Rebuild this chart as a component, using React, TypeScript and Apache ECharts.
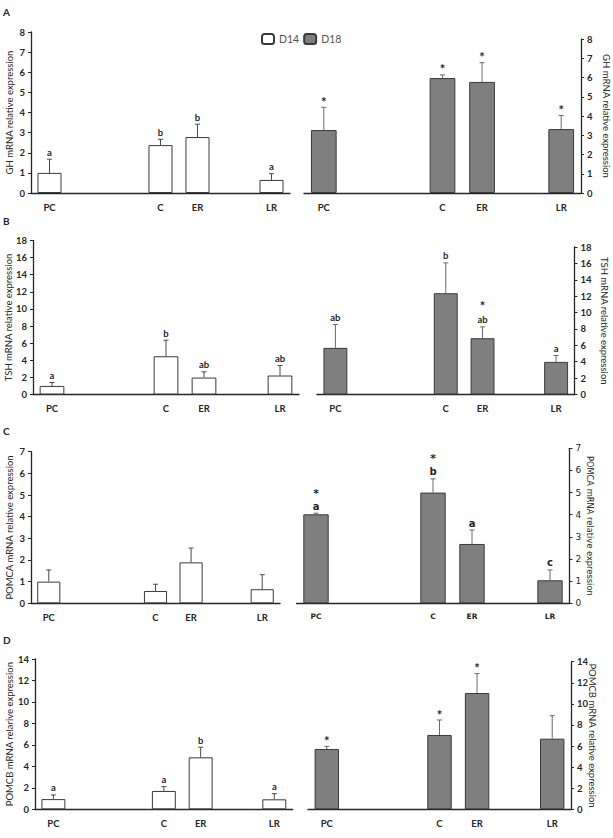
import React, { useEffect, useRef } from "react";
import * as echarts from "echarts";

// Treatment groups and the x-axis slots (empty slots keep the gaps between groups)
const groups = ["PC", "C", "ER", "LR"];
const slots = ["PC", "", "", "C", "ER", "", "LR"];

// A: GH
const ghD14 = [1.0, 2.38, 2.78, 0.65];
const ghD14Err = [0.68, 0.29, 0.64, 0.31];
const ghD14Sig = ["a", "b", "b", "a"];
const ghD18 = [3.27, 5.97, 5.77, 3.32];
const ghD18Err = [1.18, 0.16, 1.0, 0.71];
const ghD18Sig = ["*", "*", "*", "*"];

// B: TSH
const tshD14 = [1.0, 4.47, 1.98, 2.22];
const tshD14Err = [0.4, 1.87, 0.67, 1.17];
const tshD14Sig = ["a", "b", "ab", "ab"];
const tshD18 = [5.69, 12.36, 6.87, 3.98];
const tshD18Err = [2.85, 3.7, 1.38, 0.78];
const tshD18Sig = ["ab", "b", "*\nab", "a"];

// C: POMCA
const pomcaD14 = [1.0, 0.57, 1.89, 0.65];
const pomcaD14Err = [0.54, 0.31, 0.66, 0.67];
const pomcaD14Sig = ["", "", "", ""];
const pomcaD18 = [4.02, 5.0, 2.68, 1.04];
const pomcaD18Err = [0.05, 0.62, 0.63, 0.47];
const pomcaD18Sig = ["*\na", "*\nb", "a", "c"];

// D: POMCB
const pomcbD14 = [0.95, 1.71, 4.84, 0.93];
const pomcbD14Err = [0.39, 0.4, 0.94, 0.53];
const pomcbD14Sig = ["a", "a", "b", "a"];
const pomcbD18 = [5.72, 7.05, 11.03, 6.7];
const pomcbD18Err = [0.25, 1.42, 1.84, 2.18];
const pomcbD18Sig = ["*", "*", "*", ""];

// y-axis ranges
const yMax = [8, 18, 7, 14];
const yStep = [1, 2, 1, 2];

const panelLetters = ["A", "B", "C", "D"];
const titlesLeft = [
  "GH mRNA relative expression",
  "TSH mRNA relative expression",
  "POMCA mRNA relative expression",
  "POMCB mRNA relarive expression",
];
const titlesRight = [
  "GH mRNA relative expression",
  "TSH mRNA relative expression",
  "POMCA mRNA relative expression",
  "POMCB mRNA relative expression",
];

const panels = [
  { d14: [ghD14, ghD14Err, ghD14Sig], d18: [ghD18, ghD18Err, ghD18Sig] },
  { d14: [tshD14, tshD14Err, tshD14Sig], d18: [tshD18, tshD18Err, tshD18Sig] },
  { d14: [pomcaD14, pomcaD14Err, pomcaD14Sig], d18: [pomcaD18, pomcaD18Err, pomcaD18Sig] },
  { d14: [pomcbD14, pomcbD14Err, pomcbD14Sig], d18: [pomcbD18, pomcbD18Err, pomcbD18Sig] },
];

// Plot frames (px) for each row, and x centres of the rotated axis titles
const frames = [
  { l: [31, 32, 259, 161], r: [304, 39, 277, 154], tagY: 13, titleL: 9.5, titleR: 606.5 },
  { l: [33, 240.5, 266, 154], r: [317, 247, 257.5, 147.5], tagY: 222, titleL: 8.5, titleR: 604 },
  { l: [31, 451.7, 249, 151.6], r: [296.5, 448.3, 273, 155], tagY: 432, titleL: 9, titleR: 590 },
  { l: [35, 659, 257.7, 150.3], r: [308, 661.7, 263, 147.6], tagY: 641, titleL: 9, titleR: 592.5 },
];

const CAL = "Lato, 'Open Sans', sans-serif";
const DJV = "'DejaVu Sans', sans-serif";
const INK = "#262626";
const EDGE = "#3a3a3a";

export default function App() {
  const ref = useRef<HTMLDivElement>(null);

  useEffect(() => {
    if (!ref.current) return;
    const chart = echarts.init(ref.current, undefined, { renderer: "svg" });

    const grid: any[] = [];
    const xAxis: any[] = [];
    const yAxis: any[] = [];
    const series: any[] = [];
    const graphic: any[] = [];

    panels.forEach((p, row) => {
      const fr = frames[row];
      (["l", "r"] as const).forEach((side) => {
        const idx = grid.length;
        const isRight = side === "r";
        const [x, y, w, h] = fr[side];
        const djv = isRight && row === 2;
        const font = djv ? DJV : CAL;
        grid.push({ left: x, top: y, width: w, height: h, containLabel: false, outerBoundsMode: "none" });
        xAxis.push({
          type: "category",
          gridIndex: idx,
          data: slots,
          axisLine: { lineStyle: { color: INK, width: 1.3 } },
          axisTick: { show: false },
          axisLabel: {
            interval: 0,
            margin: 9,
            color: INK,
            fontFamily: font,
            fontWeight: "bold",
            fontSize: djv ? 7.5 : 9.5,
          },
          splitLine: { show: false },
        });
        yAxis.push({
          type: "value",
          gridIndex: idx,
          position: isRight ? "right" : "left",
          min: 0,
          max: yMax[row],
          interval: yStep[row],
          axisLine: { show: true, lineStyle: { color: INK, width: 1.3 } },
          axisTick: { show: true, inside: false, length: 3, lineStyle: { color: INK } },
          axisLabel: {
            margin: 6,
            color: INK,
            fontFamily: font,
            fontWeight: djv ? "normal" : "bold",
            fontSize: djv ? 9 : 9.5,
          },
          splitLine: { show: false },
        });

        // rotated axis title
        graphic.push({
          type: "text",
          x: isRight ? fr.titleR : fr.titleL,
          y: y + h / 2,
          rotation: isRight ? -Math.PI / 2 : Math.PI / 2,
          style: {
            text: isRight ? titlesRight[row] : titlesLeft[row],
            align: "center",
            verticalAlign: "middle",
            fill: INK,
            fontFamily: font,
            fontSize: djv ? 8.3 : 9.5,
          },
        });

        const [vals, errs, sigs] = (isRight ? p.d18 : p.d14) as [number[], number[], string[]];
        const fill = isRight ? "#7f7f7f" : "#ffffff";
        series.push({
          type: "bar",
          name: isRight ? "D18" : "D14",
          xAxisIndex: idx,
          yAxisIndex: idx,
          barWidth: "65%",
          itemStyle: { color: fill, borderColor: EDGE, borderWidth: 1 },
          data: slots.map((s) => (s ? vals[groups.indexOf(s)] : null)),
        });
        series.push({
          type: "custom",
          name: "err",
          xAxisIndex: idx,
          yAxisIndex: idx,
          z: 5,
          data: groups.map((g, k) => [slots.indexOf(g), vals[k], vals[k] + errs[k], k]),
          renderItem: (_params: any, api: any) => {
            const cx = api.value(0);
            const base = api.coord([cx, api.value(1)]);
            const top = api.coord([cx, api.value(2)]);
            const label = sigs[api.value(3)];
            const stroke = isRight ? "#6a6a6a" : "#4a4a4a";
            const children: any[] = [
              { type: "line", shape: { x1: base[0], y1: base[1], x2: top[0], y2: top[1] }, style: { stroke, lineWidth: 1 } },
              { type: "line", shape: { x1: top[0] - 2.5, y1: top[1], x2: top[0] + 2.5, y2: top[1] }, style: { stroke, lineWidth: 1 } },
            ];
            // significance marks stacked upward from the error cap
            let bottom = top[1] - 1;
            label
              .split("\n")
              .filter((s) => s)
              .reverse()
              .forEach((part, i) => {
                const star = part === "*";
                const size = star ? (djv ? 11 : 13) : djv ? 10 : 9.5;
                // a lone star may sit close to the cap; a stacked one clears the letters below
                const lh = star ? (i === 0 ? 9 : Math.ceil(size * 1.2)) : Math.ceil(size * 1.2);
                children.push({
                  type: "text",
                  x: top[0],
                  y: bottom,
                  style: {
                    text: part,
                    align: "center",
                    verticalAlign: "bottom",
                    fill: INK,
                    fontFamily: font,
                    fontWeight: "bold",
                    fontSize: size,
                    lineHeight: lh,
                  },
                });
                bottom -= lh;
              });
            return { type: "group", children };
          },
        });
      });
    });

    frames.forEach((fr, row) => {
      graphic.push({
        type: "text",
        left: 3,
        top: fr.tagY - 6,
        style: { text: panelLetters[row], fill: INK, fontFamily: CAL, fontWeight: "bold", fontSize: 10 },
      });
    });

    chart.setOption({
      animation: false,
      backgroundColor: "#ffffff",
      legend: {
        data: ["D14", "D18"],
        left: 256,
        top: 28,
        itemWidth: 12,
        itemHeight: 10,
        itemGap: 4,
        selectedMode: false,
        textStyle: { color: "#555555", fontFamily: CAL, fontSize: 10.5 },
      },
      grid,
      xAxis,
      yAxis,
      series,
      graphic,
    });

    return () => chart.dispose();
  }, []);

  return (
    <div
      ref={ref}
      style={{ position: "fixed", left: 0, top: 0, width: 613, height: 838, background: "#fff" }}
    />
  );
}
